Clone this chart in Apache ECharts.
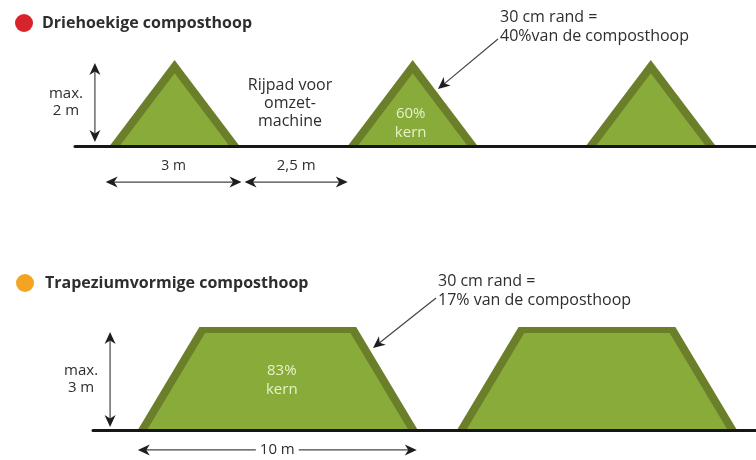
<!DOCTYPE html>
<html><head><meta charset="utf-8">
<script src="https://cdn.jsdelivr.net/npm/echarts@6/dist/echarts.min.js"></script>
<style>html,body{margin:0;padding:0;background:#fff}#c{width:756px;height:460px}</style>
</head><body><div id="c"></div>
<script>
// ---------------- data ----------------
const titles = ['Driehoekige composthoop', 'Trapeziumvormige composthoop'];
const titleDotColors = ['#d8232a', '#f5a421'];
// pile dimensions in metres: [base width, top width, height, driving lane]
const triangleDims = [3, 0, 2, 2.5];
const triangleCount = 3;
const trapezoidDims = [10, 5.6, 3, 1.4];
const trapezoidCount = 2;
const rimCm = [30, 30];
const rimShare = [40, 17];
const coreShare = [60, 83];
const laneLabel = 'Rijpad voor\nomzet-\nmachine';
const coreWord = 'kern';

// ---------------- styles ----------------
const RIM = '#6b7f2b', CORE = '#89ab39', INK = '#2e2e2e', CORETXT = '#e6f1cb';
const FONT = "'Open Sans', 'DejaVu Sans', sans-serif";

function pileData(dims, count) {
  const [base, top, h, gap] = dims;
  const out = [];
  for (let i = 0; i < count; i++) out.push([i * (base + gap), base, top, h]);
  return out;
}
const triData = pileData(triangleDims, triangleCount);
const trapData = pileData(trapezoidDims, trapezoidCount);
const triLabels = triData.map((d, i) => i === 1 ? coreShare[0] + '%\n' + coreWord : null);
const trapLabels = trapData.map((d, i) => i === 0 ? coreShare[1] + '%\n' + coreWord : null);

function insetPoly(pts, ds) {
  const n = pts.length;
  let cx = 0, cy = 0;
  pts.forEach(p => { cx += p[0] / n; cy += p[1] / n; });
  const lines = [];
  for (let i = 0; i < n; i++) {
    const a = pts[i], b = pts[(i + 1) % n];
    const dx = b[0] - a[0], dy = b[1] - a[1];
    const len = Math.hypot(dx, dy);
    let nx = -dy / len, ny = dx / len;
    if ((cx - a[0]) * nx + (cy - a[1]) * ny < 0) { nx = -nx; ny = -ny; }
    lines.push({ px: a[0] + nx * ds[i], py: a[1] + ny * ds[i], dx, dy });
  }
  const res = [];
  for (let i = 0; i < n; i++) {
    const L1 = lines[(i - 1 + n) % n], L2 = lines[i];
    const cr = L1.dx * L2.dy - L1.dy * L2.dx;
    const t = ((L2.px - L1.px) * L2.dy - (L2.py - L1.py) * L2.dx) / cr;
    res.push([L1.px + t * L1.dx, L1.py + t * L1.dy]);
  }
  return res;
}

function makePileRenderer(labels, labelFrac, labelDx) {
  return function (params, api) {
    const x0 = api.value(0), base = api.value(1), top = api.value(2), h = api.value(3);
    const side = (base - top) / 2;
    let pts, ds;
    if (top > 0) {
      pts = [api.coord([x0, 0]), api.coord([x0 + side, h]), api.coord([x0 + side + top, h]), api.coord([x0 + base, 0])];
      ds = [8, 6, 8, 0];
    } else {
      pts = [api.coord([x0, 0]), api.coord([x0 + base / 2, h]), api.coord([x0 + base, 0])];
      ds = [8, 8, 0];
    }
    const inner = insetPoly(pts, ds);
    const children = [
      { type: 'polygon', shape: { points: pts }, style: { fill: RIM } },
      { type: 'polygon', shape: { points: inner }, style: { fill: CORE } }
    ];
    const lab = labels[params.dataIndex];
    if (lab) {
      const g = api.coord([x0 + base / 2, 0]);
      const t = api.coord([x0 + base / 2, h]);
      children.push({ type: 'text', style: { text: lab, x: g[0] + labelDx, y: g[1] - (g[1] - t[1]) * labelFrac,
        fill: CORETXT, font: '15px ' + FONT, align: 'center', verticalAlign: 'middle', lineHeight: 19 } });
    }
    return { type: 'group', children };
  };
}

function head(tip, ux, uy) {
  const L = 12, W = 5.5, N = 3.5;
  const px = -uy, py = ux;
  return { type: 'polygon', shape: { points: [
    tip,
    [tip[0] - ux * L + px * W, tip[1] - uy * L + py * W],
    [tip[0] - ux * (L - N), tip[1] - uy * (L - N)],
    [tip[0] - ux * L - px * W, tip[1] - uy * L - py * W]
  ] }, style: { fill: '#1e1e1e' } };
}
function arrowEls(a, b, both) {
  const dx = b[0] - a[0], dy = b[1] - a[1], len = Math.hypot(dx, dy);
  const ux = dx / len, uy = dy / len;
  const els = [{ type: 'line', shape: { x1: a[0] + (both ? ux * 8 : 0), y1: a[1] + (both ? uy * 8 : 0), x2: b[0] - ux * 8, y2: b[1] - uy * 8 },
    style: { stroke: '#444', lineWidth: 1.2 } }, head(b, ux, uy)];
  if (both) els.push(head(a, -ux, -uy));
  return els;
}

// dimension arrows: [x0, y0, x1, y1] in metres, label, label mode, pixel pads [start, end]
function makeDimRenderer(specs) {
  return function (params, api) {
    const s = specs[params.dataIndex];
    let a = api.coord([api.value(0), api.value(1)]);
    let b = api.coord([api.value(2), api.value(3)]);
    const dx = b[0] - a[0], dy = b[1] - a[1], len = Math.hypot(dx, dy);
    const ux = dx / len, uy = dy / len;
    a = [a[0] + ux * s.pad[0], a[1] + uy * s.pad[0]];
    b = [b[0] - ux * s.pad[1], b[1] - uy * s.pad[1]];
    const children = arrowEls(a, b, true);
    const mx = (a[0] + b[0]) / 2, my = (a[1] + b[1]) / 2;
    const st = { text: s.label, fill: INK, font: s.size + 'px ' + FONT, align: 'center', verticalAlign: 'middle', lineHeight: 17 };
    if (s.mode === 'above') { st.x = mx; st.y = my - 16; }
    else if (s.mode === 'left') { st.x = mx - 29; st.y = my; }
    else { st.x = mx; st.y = my; st.backgroundColor = '#fff'; st.padding = [0, 4]; }
    children.push({ type: 'text', style: st });
    return { type: 'group', children };
  };
}

const [tB, , tH, tG] = triangleDims;
const [zB, , zH] = trapezoidDims;
const dimTop = [
  { v: [0, -0.84, tB, -0.84], label: tB + ' m', mode: 'above', pad: [-4, -2], size: 14 },
  { v: [tB, -0.84, tB + tG, -0.84], label: String(tG).replace('.', ',') + ' m', mode: 'above', pad: [5, 0], size: 15 },
  { v: [-0.34, 0, -0.34, tH], label: 'max.\n' + tH + ' m', mode: 'left', pad: [4, 3], size: 15 }
];
const dimBot = [
  { v: [0, -0.58, zB, -0.58], label: zB + ' m', mode: 'middle', pad: [0, 1], size: 15 },
  { v: [-0.99, 0, -0.99, zH], label: 'max.\n' + zH + ' m', mode: 'left', pad: [3, 5], size: 15 }
];

function hiddenX(idx, min, max) {
  return { type: 'value', gridIndex: idx, min, max, z: 5,
    axisLine: { show: true, onZero: true, lineStyle: { color: '#161616', width: 3 } },
    axisTick: { show: false }, axisLabel: { show: false }, splitLine: { show: false } };
}
function hiddenY(idx, min, max) {
  return { type: 'value', gridIndex: idx, min, max, show: false, splitLine: { show: false } };
}

function calloutEls(x, y, text, from, to) {
  const els = [{ type: 'text', style: { text, x, y, fill: INK, font: '16px ' + FONT, lineHeight: 19, align: 'left', verticalAlign: 'top' } }];
  return els.concat(arrowEls(from, to, false));
}

const graphic = [
  { type: 'circle', shape: { cx: 24, cy: 23, r: 9 }, style: { fill: titleDotColors[0] } },
  { type: 'text', style: { text: titles[0], x: 42, y: 23, fill: INK, font: 'bold 16px ' + FONT, verticalAlign: 'middle' } },
  { type: 'circle', shape: { cx: 25, cy: 283, r: 9 }, style: { fill: titleDotColors[1] } },
  { type: 'text', style: { text: titles[1], x: 45, y: 283, fill: INK, font: 'bold 16px ' + FONT, verticalAlign: 'middle' } },
  { type: 'text', style: { text: laneLabel, x: 290, y: 103, fill: INK, font: '16px ' + FONT, lineHeight: 18, align: 'center', verticalAlign: 'middle' } }
].concat(
  calloutEls(500, 8, rimCm[0] + ' cm rand =\n' + rimShare[0] + '%van de composthoop', [498, 39], [438, 89]),
  calloutEls(438, 272, rimCm[1] + ' cm rand =\n' + rimShare[1] + '% van de composthoop', [436, 298], [373, 348])
);

const option = {
  animation: false,
  backgroundColor: '#ffffff',
  grid: [
    { left: 75, right: 0, top: 38.5, height: 150.5 },
    { left: 93, right: 0, top: 306.4, height: 152.8 }
  ],
  xAxis: [hiddenX(0, -0.8, 14.93), hiddenX(1, -1.6, 22.08)],
  yAxis: [hiddenY(0, -1, 2.5), hiddenY(1, -0.85, 3.6)],
  series: [
    { type: 'custom', xAxisIndex: 0, yAxisIndex: 0, renderItem: makePileRenderer(triLabels, 0.27, -2), data: triData, z: 2 },
    { type: 'custom', xAxisIndex: 1, yAxisIndex: 1, renderItem: makePileRenderer(trapLabels, 0.48, 4), data: trapData, z: 2 },
    { type: 'custom', xAxisIndex: 0, yAxisIndex: 0, renderItem: makeDimRenderer(dimTop), data: dimTop.map(d => d.v), clip: false },
    { type: 'custom', xAxisIndex: 1, yAxisIndex: 1, renderItem: makeDimRenderer(dimBot), data: dimBot.map(d => d.v), clip: false }
  ],
  graphic
};
const chart = echarts.init(document.getElementById('c'));
chart.setOption(option);
</script></body></html>
